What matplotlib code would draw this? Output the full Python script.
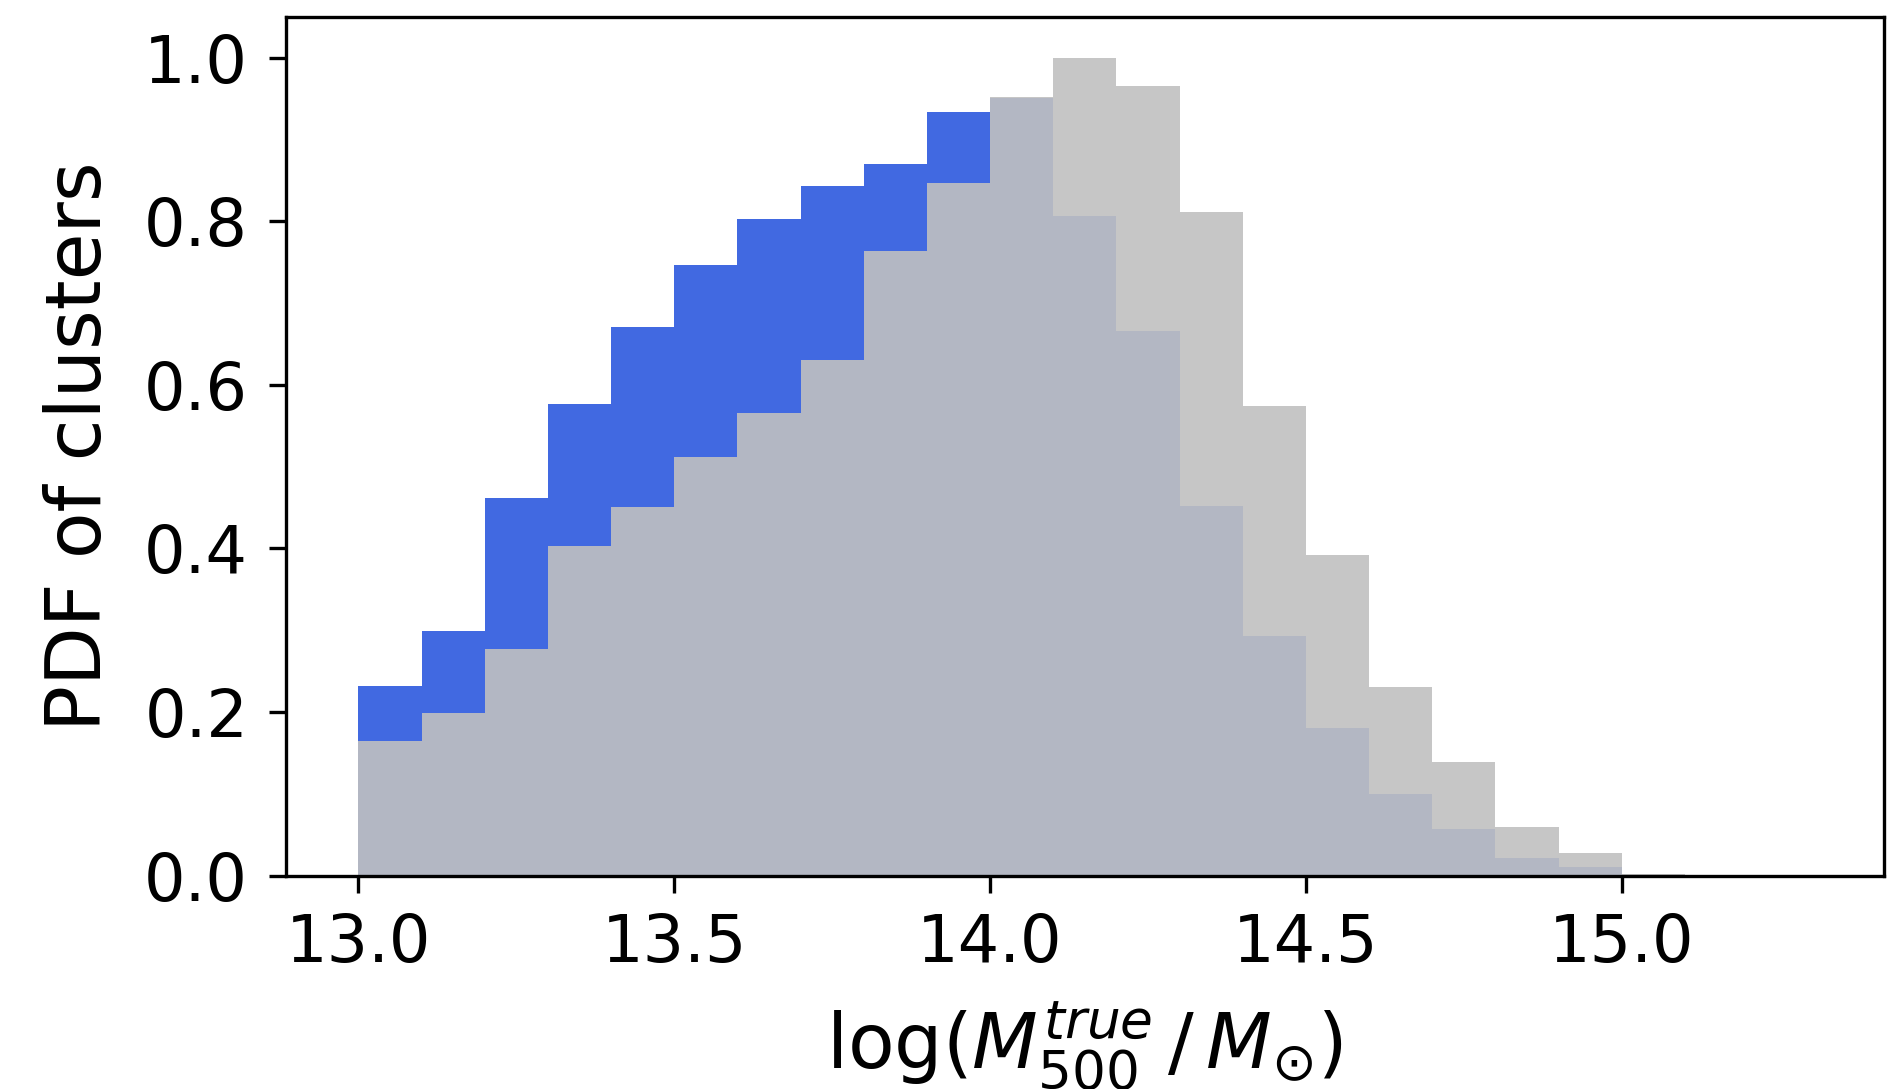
import numpy as np
import matplotlib
matplotlib.use("Agg")
import matplotlib.pyplot as plt

bin_edges = [13.0, 13.1, 13.2, 13.3, 13.4, 13.5, 13.6, 13.7, 13.8, 13.9, 14.0,
             14.1, 14.2, 14.3, 14.4, 14.5, 14.6, 14.7, 14.8, 14.9, 15.0, 15.1,
             15.2, 15.3]

pdf_blue = [0.232, 0.299, 0.462, 0.577, 0.671, 0.747, 0.803, 0.843, 0.870, 0.934,
            0.951, 0.807, 0.666, 0.452, 0.293, 0.180, 0.100, 0.057, 0.021, 0.011,
            0.001, 0.0, 0.0]

pdf_grey = [0.164, 0.199, 0.277, 0.403, 0.451, 0.512, 0.566, 0.631, 0.764, 0.847,
            0.952, 1.000, 0.965, 0.812, 0.574, 0.392, 0.230, 0.139, 0.059, 0.028,
            0.002, 0.0, 0.0]

centers = [(a + b) / 2 for a, b in zip(bin_edges[:-1], bin_edges[1:])]

fig = plt.figure(figsize=(1891 / 300, 1089 / 300), dpi=300)
ax = fig.add_axes([0.1511, 0.1960, 0.8451, 0.7885])

ax.hist(centers, bins=bin_edges, weights=pdf_blue, color='royalblue')
ax.hist(centers, bins=bin_edges, weights=pdf_grey, color='silver', alpha=0.9)

ax.set_xlim(12.885, 15.415)
ax.set_ylim(0, 1.05)
ax.set_xticks([13.0, 13.5, 14.0, 14.5, 15.0])
ax.set_yticks([0.0, 0.2, 0.4, 0.6, 0.8, 1.0])
ax.tick_params(labelsize=15.7, length=4)
ax.tick_params(axis='x', pad=4.8)
ax.tick_params(axis='y', pad=5)
ax.set_xlabel(r'$\log(M_{500}^{true}\,/\,M_{\odot})$', fontsize=18.3, labelpad=5.5)
ax.set_ylabel('PDF of clusters', fontsize=18.3, labelpad=6.5)

fig.savefig('out.png', dpi=300)
